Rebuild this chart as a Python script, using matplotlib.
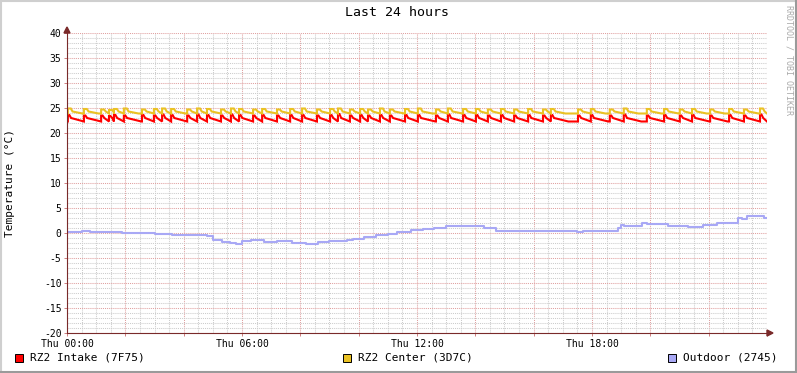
import matplotlib.pyplot as plt
from matplotlib.patches import Rectangle, Polygon
from matplotlib.lines import Line2D
from matplotlib.ticker import MultipleLocator

# chart text
title = "Last 24 hours"
y_label = "Temperature (°C)"
hour_ticks = [0, 6, 12, 18]
hour_labels = ["Thu 00:00", "Thu 06:00", "Thu 12:00", "Thu 18:00"]
series_names = ["RZ2 Intake (7F75)", "RZ2 Center (3D7C)", "Outdoor (2745)"]
series_colors = ["#ff0000", "#eac224", "#a8a8f5"]

# times (hours) where the two rack sensors jump up
spike_hours = [0.03, 0.58, 1.17, 1.44, 1.61, 1.95, 2.57, 2.98, 3.26, 3.57,
               4.12, 4.46, 4.80, 5.28, 5.62, 5.90, 6.38, 6.69, 7.20, 7.65,
               8.06, 8.57, 9.02, 9.29, 9.70, 10.05, 10.32, 10.73, 11.07, 11.59,
               12.03, 12.65, 13.06, 13.58, 14.02, 14.43, 14.88, 15.33, 15.81, 16.32,
               16.59, 17.52, 17.96, 18.61, 19.09, 19.88, 20.47, 21.01, 21.43, 22.05,
               22.70, 23.21, 23.76]
intake_peaks = [23.6, 23.5, 23.5, 23.4, 23.6, 23.5, 23.6, 23.5, 23.7, 23.6,
                23.5, 23.7, 23.6, 23.5, 23.7, 23.6, 23.5, 23.6, 23.5, 23.6,
                23.6, 23.5, 23.6, 23.8, 23.5, 23.6, 23.5, 23.6, 23.5, 23.6,
                23.6, 23.5, 23.7, 23.6, 23.6, 23.5, 23.6, 23.5, 23.6, 23.5,
                23.6, 23.5, 23.6, 23.5, 23.7, 23.5, 23.6, 23.5, 23.6, 23.5,
                23.6, 23.5, 23.7]
center_peaks = [24.9, 24.8, 24.7, 24.6, 24.8, 24.9, 24.7, 24.8, 24.9, 24.8,
                24.7, 24.9, 24.8, 24.7, 24.9, 24.8, 24.7, 24.8, 24.7, 24.8,
                24.9, 24.7, 24.8, 24.9, 24.7, 24.8, 24.7, 24.9, 24.7, 24.8,
                24.9, 24.7, 24.9, 24.8, 24.8, 24.7, 24.8, 24.7, 24.8, 24.7,
                24.8, 24.7, 24.8, 24.7, 24.9, 24.8, 24.8, 24.7, 24.8, 24.7,
                24.8, 24.7, 24.9]
intake_base, intake_mid = 22.3, 23.0
center_base, center_mid = 23.9, 24.3

outdoor_hours = [0.0, 0.3, 0.5, 0.8, 1.2, 1.9, 2.3, 3.0, 3.6, 4.5, 4.8, 5.0,
                 5.3, 5.6, 5.8, 6.0, 6.3, 6.75, 7.2, 7.5, 7.7, 8.2, 8.6, 9.0,
                 9.6, 9.8, 10.2, 10.6, 11.0, 11.3, 11.8, 12.2, 12.6, 13.0, 14.0, 14.3,
                 14.7, 16.4, 17.5, 17.7, 18.6, 18.9, 19.0, 19.1, 19.6, 19.7,
                 19.9, 20.3, 20.6, 21.1, 21.3, 21.6, 21.8, 22.1, 22.3, 22.7,
                 23.0, 23.15, 23.3, 23.8, 23.9, 24.0]
outdoor_temp = [0.3, 0.25, 0.35, 0.2, 0.2, 0.0, -0.05, -0.15, -0.3, -0.45, -0.6, -1.4,
                -1.75, -1.9, -2.2, -1.55, -1.4, -1.7, -1.65, -1.6, -2.0, -2.25, -1.75, -1.5,
                -1.45, -1.1, -0.8, -0.4, -0.1, 0.25, 0.6, 0.8, 1.0, 1.4, 1.4, 1.0,
                0.4, 0.35, 0.2, 0.4, 0.45, 0.95, 1.7, 1.5, 1.5, 2.05,
                1.8, 1.8, 1.4, 1.4, 1.15, 1.15, 1.65, 1.65, 1.95, 1.95,
                3.1, 2.9, 3.4, 3.5, 3.1, 3.0]


def fin_path(spikes, peaks, base, mid, width, fall):
    # vertices of the sawtooth: jump up, short top, drop, slow decay
    t, v = [0.0], [base]
    for i, (s, p) in enumerate(zip(spikes, peaks)):
        nxt = spikes[i + 1] if i + 1 < len(spikes) else 24.0
        t += [s, s, s + width, s + width + 0.06, min(s + fall, nxt)]
        v += [base, p, p, mid, base]
    t.append(24.0)
    v.append(base)
    return t, v


W, H = 797, 373
fig = plt.figure(figsize=(W / 100, H / 100), dpi=100)
fig.patch.set_facecolor("white")
ax = fig.add_axes([67 / W, 1 - 333 / H, 700 / W, 300 / H])
mono = "DejaVu Sans Mono"
axis_col = "#7a2a2a"

ax.set_xlim(0, 24)
ax.set_ylim(-20, 40)
ax.xaxis.set_major_locator(MultipleLocator(2))
ax.xaxis.set_minor_locator(MultipleLocator(0.5))
ax.yaxis.set_major_locator(MultipleLocator(5))
ax.yaxis.set_minor_locator(MultipleLocator(1))
ax.grid(which="minor", color="#cccccc", linestyle=(0, (1, 1)), linewidth=0.75)
ax.grid(which="major", color="#e0a0a0", linestyle=(0, (1, 1)), linewidth=0.75)
ax.set_axisbelow(True)
ax.set_xticks(range(0, 25, 2))
ax.set_xticklabels([hour_labels[hour_ticks.index(h)] if h in hour_ticks else ""
                    for h in range(0, 25, 2)], fontfamily=mono, fontsize=7)
ax.set_yticks(range(-20, 41, 5))
ax.set_yticklabels([str(v) for v in range(-20, 41, 5)], fontfamily=mono, fontsize=7)
ax.tick_params(which="major", length=2, width=0.7, color="#d08080", pad=2)
ax.tick_params(which="minor", length=0)
for side in ["top", "right"]:
    ax.spines[side].set_visible(False)
for side in ["left", "bottom"]:
    ax.spines[side].set_color(axis_col)
    ax.spines[side].set_linewidth(0.8)

t, v = fin_path(spike_hours, intake_peaks, intake_base, intake_mid, 0.05, 0.6)
ax.plot(t, v, color=series_colors[0], linewidth=1.5, solid_joinstyle="miter")
t, v = fin_path(spike_hours, center_peaks, center_base, center_mid, 0.1, 0.5)
ax.plot(t, v, color=series_colors[1], linewidth=1.5, solid_joinstyle="miter")
ax.plot(outdoor_hours, outdoor_temp, color=series_colors[2], linewidth=1.5,
        drawstyle="steps-post")

# axis arrows
fig.add_artist(Polygon([(767 / W, 1 - 330 / H), (767 / W, 1 - 336 / H), (773 / W, 1 - 333 / H)],
                       closed=True, color=axis_col, transform=fig.transFigure))
fig.add_artist(Polygon([(64 / W, 1 - 33 / H), (70 / W, 1 - 33 / H), (67 / W, 1 - 27 / H)],
                       closed=True, color=axis_col, transform=fig.transFigure))
fig.add_artist(Line2D([767 / W, 770 / W], [1 - 333 / H, 1 - 333 / H], color=axis_col,
                      linewidth=0.8, transform=fig.transFigure))

fig.text(397 / W, 1 - 13 / H, title, ha="center", va="center", fontfamily=mono, fontsize=9.5)
fig.text(10 / W, 1 - 183 / H, y_label, ha="center", va="center", rotation=90,
         fontfamily=mono, fontsize=8)
fig.text(789 / W, 1 - 5 / H, "RRDTOOL / TOBI OETIKER", ha="center", va="top", rotation=270,
         fontfamily=mono, fontsize=6, color="#aaaaaa")

# legend
legend_x = [15, 343, 668]
for x0, name, col in zip(legend_x, series_names, series_colors):
    fig.add_artist(Rectangle((x0 / W, 1 - 362 / H), 8 / W, 8 / H, facecolor=col,
                             edgecolor="black", linewidth=0.7, transform=fig.transFigure))
    fig.text((x0 + 15) / W, 1 - 358 / H, name, ha="left", va="center",
             fontfamily=mono, fontsize=8)

# 3d frame
fig.add_artist(Line2D([0, 1], [1 - 1 / H, 1 - 1 / H], color="#cfcfcf", linewidth=1.5,
                      transform=fig.transFigure))
fig.add_artist(Line2D([1 / W, 1 / W], [0, 1], color="#cfcfcf", linewidth=1.5,
                      transform=fig.transFigure))
fig.add_artist(Line2D([1 - 1 / W, 1 - 1 / W], [0, 1], color="#9a9a9a", linewidth=1.5,
                      transform=fig.transFigure))
fig.add_artist(Line2D([0, 1], [1 / H, 1 / H], color="#9a9a9a", linewidth=1.5,
                      transform=fig.transFigure))

fig.savefig("out.png", dpi=100)
